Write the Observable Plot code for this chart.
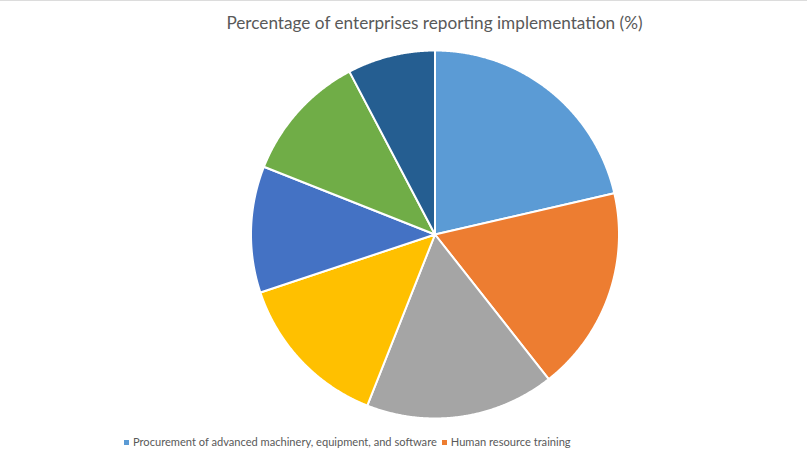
<!DOCTYPE html>
<html>
<head>
<meta charset="utf-8">
<script src="https://cdn.jsdelivr.net/npm/d3@7"></script>
<script src="https://cdn.jsdelivr.net/npm/@observablehq/plot@0.6"></script>
<style>
  html, body { margin: 0; padding: 0; background: #fff; }
  #wrap { position: relative; width: 807px; height: 456px; overflow: hidden; background: #fff; border-top: 1px solid #dcdcdc; box-sizing: border-box; }
  #title { position: absolute; left: 0; width: 869px; top: 12px; text-align: center; font-family: Lato, "Open Sans", sans-serif; font-size: 17.2px; color: #595959; line-height: 20px; }
  #chart { position: absolute; left: 0; top: 40px; }
  #legend { position: absolute; left: 124px; top: 433px; font-family: Lato, "Open Sans", sans-serif; font-size: 11.1px; color: #595959; white-space: nowrap; line-height: 16px; }
  #legend .sw { display: inline-block; width: 5px; height: 5px; margin-right: 4px; vertical-align: 1px; }
  #legend .item { margin-right: 5px; }
</style>
</head>
<body>
<div id="wrap">
  <div id="title"></div>
  <div id="chart"></div>
  <div id="legend"></div>
</div>
<script>
const title = "Percentage of enterprises reporting implementation (%)";
const categories = [
  "Procurement of advanced machinery, equipment, and software",
  "Human resource training",
  "Introduction of new or improved products",
  "Introduction of new or improved processes",
  "Research and development",
  "Marketing innovation",
  "Organizational innovation"
];
const values = [21.4, 18.0, 16.6, 13.9, 11.1, 11.3, 7.7];
const colors = ["#5B9BD5", "#ED7D31", "#A5A5A5", "#FFC000", "#4472C4", "#70AD47", "#255E91"];
const legendShown = categories.slice(0, 2);

document.getElementById("title").textContent = title;

// geometry of the drawing area
const W = 807, H = 386, R = 184, cx = 434.5, cy = 193;

const arcs = d3.pie().sort(null).value(d => d.value)(
  categories.map((c, i) => ({category: c, value: values[i]}))
);
const pts = [];
for (const a of arcs) {
  const c = a.data.category;
  pts.push({category: c, x: 0, y: 0});
  const n = Math.max(2, Math.ceil((a.endAngle - a.startAngle) / 0.005));
  for (let k = 0; k <= n; k++) {
    const t = a.startAngle + (a.endAngle - a.startAngle) * k / n;
    pts.push({category: c, x: Math.sin(t), y: Math.cos(t)});
  }
}

const plot = Plot.plot({
  width: W,
  height: H,
  margin: 0,
  x: {domain: [-cx / R, (W - cx) / R], range: [0, W], axis: null},
  y: {domain: [-(H - cy) / R, cy / R], range: [H, 0], axis: null},
  color: {domain: categories, range: colors},
  marks: [
    Plot.line(pts, {x: "x", y: "y", z: "category", fill: "category", stroke: "white", strokeWidth: 2, strokeLinejoin: "round", curve: "linear-closed"})
  ]
});
document.getElementById("chart").appendChild(plot);

const leg = document.getElementById("legend");
legendShown.forEach((c, i) => {
  const s = document.createElement("span");
  s.className = "item";
  s.innerHTML = `<span class="sw" style="background:${colors[i]}"></span>`;
  s.appendChild(document.createTextNode(c));
  leg.appendChild(s);
});
</script>
</body>
</html>
